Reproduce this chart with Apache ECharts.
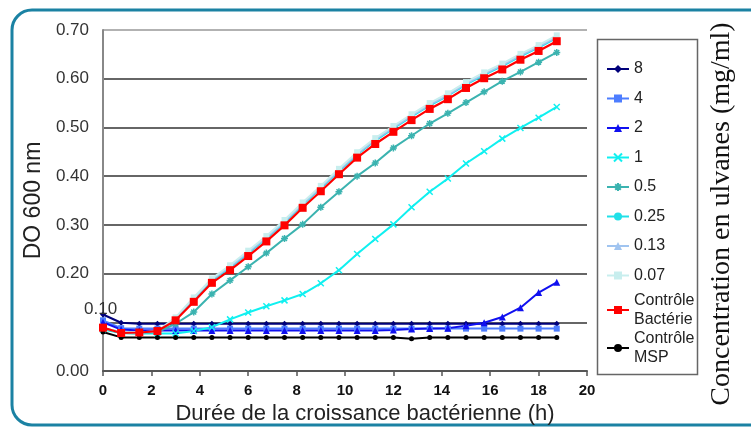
<!DOCTYPE html>
<html><head><meta charset="utf-8">
<script src="https://cdn.jsdelivr.net/npm/echarts@6/dist/echarts.min.js"></script>
<style>html,body{margin:0;padding:0;background:#fff}#c{width:751px;height:427px}</style>
</head><body><div id="c"></div>
<script>
var times = [0,0.75,1.5,2.25,3,3.75,4.5,5.25,6,6.75,7.5,8.25,9,9.75,10.5,11.25,12,12.75,13.5,14.25,15,15.75,16.5,17.25,18,18.75];
var s8   = [0.116,0.099,0.097,0.097,0.097,0.097,0.097,0.097,0.097,0.097,0.097,0.097,0.097,0.097,0.097,0.097,0.097,0.097,0.097,0.097,0.097,0.097,0.097,0.097,0.097,0.097];
var s4   = [0.104,0.088,0.087,0.087,0.087,0.087,0.087,0.087,0.087,0.087,0.087,0.087,0.087,0.087,0.087,0.087,0.087,0.087,0.087,0.087,0.087,0.087,0.087,0.087,0.087,0.087];
var s2   = [0.100,0.085,0.083,0.083,0.083,0.083,0.083,0.083,0.083,0.083,0.083,0.083,0.083,0.083,0.083,0.083,0.084,0.086,0.087,0.088,0.093,0.099,0.111,0.130,0.161,0.182];
var s1   = [0.085,0.078,0.077,0.077,0.077,0.082,0.090,0.106,0.120,0.133,0.145,0.158,0.180,0.207,0.240,0.271,0.301,0.336,0.368,0.395,0.426,0.451,0.477,0.499,0.520,0.542];
var s05  = [0.087,0.078,0.077,0.080,0.097,0.121,0.158,0.186,0.214,0.242,0.272,0.301,0.336,0.368,0.400,0.427,0.458,0.483,0.508,0.529,0.551,0.573,0.595,0.614,0.634,0.654];
var s025 = [0.087,0.079,0.078,0.081,0.107,0.147,0.186,0.212,0.242,0.272,0.305,0.341,0.375,0.410,0.444,0.473,0.498,0.522,0.545,0.565,0.588,0.608,0.626,0.646,0.664,0.684];
var s013 = [0.088,0.080,0.079,0.081,0.108,0.149,0.188,0.214,0.244,0.274,0.307,0.343,0.377,0.412,0.446,0.475,0.500,0.524,0.547,0.567,0.590,0.610,0.628,0.648,0.666,0.686];
var s007 = [0.088,0.080,0.079,0.082,0.110,0.151,0.190,0.217,0.247,0.277,0.310,0.346,0.380,0.415,0.449,0.478,0.503,0.527,0.550,0.570,0.593,0.613,0.631,0.651,0.669,0.689];
var ctrlBact = [0.089,0.078,0.079,0.082,0.104,0.142,0.181,0.207,0.236,0.266,0.299,0.335,0.369,0.404,0.438,0.466,0.491,0.515,0.538,0.558,0.581,0.601,0.619,0.639,0.657,0.677];
var ctrlMSP  = [0.080,0.069,0.069,0.069,0.069,0.069,0.069,0.069,0.069,0.069,0.069,0.069,0.069,0.069,0.069,0.069,0.069,0.066,0.069,0.069,0.069,0.069,0.069,0.069,0.069,0.069];
var seriesNames = ['8','4','2','1','0.5','0.25','0.13','0.07','Contrôle Bactérie','Contrôle MSP'];
var xTicks = [0,2,4,6,8,10,12,14,16,18,20];
var yTicks = [0,0.1,0.2,0.3,0.4,0.5,0.6,0.7];

var FONT = "'Liberation Sans', Arial, sans-serif";
function pairs(arr){ return times.map(function(t,i){ return [t, arr[i]]; }); }
var XPATH = 'path://M0,0L10,10M10,0L0,10';
var STAR = 'path://M5,0L5,10M0,5L10,5M1.5,1.5L8.5,8.5M8.5,1.5L1.5,8.5';

var defs = [
  {d:s8,  c:'#00007a', sym:'diamond', size:6, w:2},
  {d:s4,  c:'#4d7dff', sym:'rect', size:6, w:2},
  {d:s2,  c:'#1010f0', sym:'triangle', size:7, w:2},
  {d:s1,  c:'#10f0f0', sym:XPATH, size:6, w:2, stroke:true},
  {d:s05, c:'#3bb3b0', sym:STAR, size:7, w:2, stroke:true},
  {d:s025,c:'#20e0e8', sym:'circle', size:5, w:2},
  {d:s013,c:'#a0c4f0', sym:'triangle', size:6, w:2},
  {d:s007,c:'#c8eeee', sym:'rect', size:6, w:2},
  {d:ctrlBact,c:'#ff0000', sym:'rect', size:8, w:2.2},
  {d:ctrlMSP, c:'#000000', sym:'circle', size:5, w:2}
];
var series = defs.map(function(o,i){
  return {
    name: seriesNames[i], type:'line', data: pairs(o.d),
    symbol:o.sym, symbolSize:o.size, showSymbol:true,
    lineStyle:{color:o.c, width:o.w},
    itemStyle: o.stroke ? {color:o.c, borderColor:o.c, borderWidth:1.5} : {color:o.c},
    z: i===8 ? 5 : 3,
    animation:false
  };
});

var chart = echarts.init(document.getElementById('c'), null, {renderer:'canvas'});
chart.setOption({
  animation:false,
  backgroundColor:'#fff',
  grid:{left:103, right:164, top:30, bottom:56, containLabel:false, outerBoundsMode:'none'},
  xAxis:{
    type:'value', min:xTicks[0], max:xTicks[xTicks.length-1], interval:2,
    name:'Durée de la croissance bactérienne (h)', nameLocation:'middle', nameGap:30,
    nameTextStyle:{fontFamily:FONT, fontSize:22, color:'#222', padding:[0,0,0,40]},
    axisLine:{show:true, lineStyle:{color:'#555', width:2}},
    axisTick:{show:true, length:5, lineStyle:{color:'#555', width:1.5}},
    axisLabel:{fontFamily:FONT, fontSize:15, fontWeight:'bold', color:'#111', margin:12},
    splitLine:{show:false}
  },
  yAxis:{
    type:'value', min:yTicks[0], max:yTicks[yTicks.length-1], interval:0.1,
    name:'DO 600 nm', nameLocation:'middle', nameGap:56,
    nameTextStyle:{fontFamily:FONT, fontSize:23, color:'#222'},
    axisLine:{show:true, lineStyle:{color:'#888', width:2}},
    axisTick:{show:false},
    axisLabel:{fontFamily:FONT, fontSize:17, color:'#333', margin:14,
      formatter:function(v){ return Math.abs(v-0.1)<1e-9 ? '' : v.toFixed(2); }},
    splitLine:{show:true, lineStyle:{color:['#555','#333','#333','#333','#333','#333','#333','#999'], width:1.5}}
  },
  legend:[
    {data:seriesNames.slice(0,8), orient:'vertical', left:601, top:54.5, itemGap:10.5,
     itemWidth:22, itemHeight:10, textStyle:{fontFamily:FONT, fontSize:16, color:'#222', lineHeight:19}},
    {data:seriesNames.slice(8), orient:'vertical', left:601, top:286, itemGap:0,
     itemWidth:22, itemHeight:10,
     formatter:function(n){ return n.replace(' ', '\n'); },
     textStyle:{fontFamily:FONT, fontSize:16, color:'#222', lineHeight:19}}
  ],
  graphic:[
    {type:'rect', shape:{x:12, y:10, width:770, height:415, r:20}, style:{fill:'none', stroke:'#1b82a3', lineWidth:3}, z:-1},
    {type:'rect', shape:{x:597.5, y:39.5, width:100, height:335}, style:{fill:'none', stroke:'#666', lineWidth:1.5}, z:1},
    {type:'text', x:84, y:309, style:{text:'0.10', fontFamily:FONT, fontSize:17, fill:'#333', textVerticalAlign:'middle'}, z:10},
    {type:'text', x:722, y:214, rotation:Math.PI/2,
     style:{text:'Concentration en ulvanes (mg/ml)', fontFamily:"'Liberation Serif', 'Times New Roman', serif", fontSize:28, fill:'#111', textAlign:'center', textVerticalAlign:'middle'}}
  ],
  series:series
});
</script></body></html>
